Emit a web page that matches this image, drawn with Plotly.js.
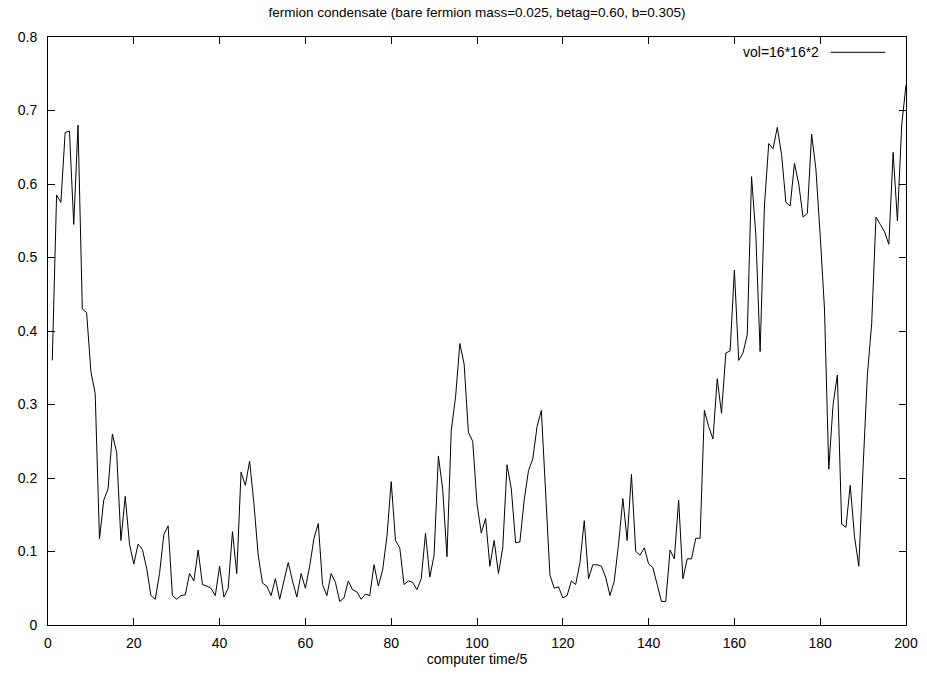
<!DOCTYPE html>
<html>
<head>
<meta charset="utf-8">
<script src="https://cdn.plot.ly/plotly-3.0.1.min.js"></script>
<style>html,body{margin:0;padding:0;background:#fff;}#chart{width:927px;height:675px;}</style>
</head>
<body>
<div id="chart"></div>
<script>
// computer time/5 (1..200)
const steps = Array.from({length: 200}, (_, i) => i + 1);
// fermion condensate values
const condensate = [
  0.360, 0.585, 0.575, 0.670, 0.672, 0.545, 0.680, 0.430, 0.425, 0.345,
  0.315, 0.117, 0.170, 0.185, 0.260, 0.235, 0.115, 0.175, 0.110, 0.083,
  0.110, 0.103, 0.077, 0.040, 0.035, 0.070, 0.123, 0.135, 0.040, 0.035,
  0.040, 0.041, 0.070, 0.060, 0.102, 0.055, 0.053, 0.050, 0.040, 0.080,
  0.038, 0.050, 0.127, 0.070, 0.208, 0.190, 0.223, 0.165, 0.095, 0.057,
  0.053, 0.040, 0.063, 0.035, 0.060, 0.085, 0.060, 0.038, 0.070, 0.050,
  0.080, 0.118, 0.138, 0.055, 0.040, 0.070, 0.058, 0.032, 0.037, 0.060,
  0.048, 0.045, 0.035, 0.042, 0.040, 0.082, 0.053, 0.075, 0.120, 0.195,
  0.115, 0.105, 0.055, 0.060, 0.058, 0.048, 0.063, 0.125, 0.065, 0.095,
  0.230, 0.185, 0.093, 0.265, 0.310, 0.383, 0.355, 0.262, 0.250, 0.165,
  0.125, 0.145, 0.080, 0.115, 0.070, 0.105, 0.218, 0.185, 0.112, 0.113,
  0.170, 0.210, 0.226, 0.270, 0.292, 0.170, 0.068, 0.050, 0.052, 0.037,
  0.040, 0.060, 0.055, 0.085, 0.142, 0.063, 0.082, 0.082, 0.080, 0.065,
  0.040, 0.060, 0.110, 0.172, 0.115, 0.205, 0.100, 0.095, 0.105, 0.083,
  0.078, 0.055, 0.032, 0.032, 0.102, 0.090, 0.170, 0.063, 0.090, 0.090,
  0.118, 0.118, 0.292, 0.270, 0.253, 0.335, 0.288, 0.370, 0.373, 0.483,
  0.360, 0.370, 0.395, 0.610, 0.530, 0.372, 0.570, 0.655, 0.648, 0.677,
  0.640, 0.575, 0.570, 0.628, 0.600, 0.555, 0.560, 0.668, 0.620, 0.530,
  0.430, 0.212, 0.300, 0.340, 0.137, 0.133, 0.190, 0.120, 0.080, 0.215,
  0.340, 0.410, 0.555, 0.545, 0.535, 0.518, 0.643, 0.550, 0.680, 0.735
];
const seriesName = 'vol=16*16*2';
const xTicks = [0, 20, 40, 60, 80, 100, 120, 140, 160, 180, 200];
const yTicks = [0, 0.1, 0.2, 0.3, 0.4, 0.5, 0.6, 0.7, 0.8];
const yTickText = ['0', '0.1', '0.2', '0.3', '0.4', '0.5', '0.6', '0.7', '0.8'];

const font = {family: 'Liberation Sans, Arial, sans-serif', size: 14, color: '#000'};

const trace = {
  x: steps, y: condensate, type: 'scatter', mode: 'lines',
  name: seriesName, line: {color: '#000', width: 1}, showlegend: false
};

const axisCommon = {
  showgrid: false, zeroline: false, showline: true, linecolor: '#000', linewidth: 1,
  mirror: 'ticks', ticks: 'inside', ticklen: 7, tickcolor: '#000', tickwidth: 1,
  tickfont: font
};

const layout = {
  width: 927, height: 675,
  margin: {l: 48, r: 21, t: 37, b: 50},
  paper_bgcolor: '#fff', plot_bgcolor: '#fff',
  font: font,
  title: {text: 'fermion condensate (bare fermion mass=0.025, betag=0.60, b=0.305)',
          font: {family: font.family, size: 13.5, color: '#000'},
          x: 0.5, xref: 'paper', y: 0.982, yref: 'container', yanchor: 'middle'},
  xaxis: Object.assign({}, axisCommon, {
    range: [0, 200], tickvals: xTicks, ticktext: xTicks.map(String),
    ticklabelstandoff: 5,
    title: {text: 'computer time/5', font: font, standoff: 2}
  }),
  yaxis: Object.assign({}, axisCommon, {
    range: [0, 0.8], tickvals: yTicks, ticktext: yTickText,
    ticklabelstandoff: 7
  }),
  annotations: [{
    text: seriesName, xref: 'paper', yref: 'paper', x: 0.901, y: 0.974,
    xanchor: 'right', yanchor: 'middle', showarrow: false, font: font
  }],
  shapes: [{
    type: 'line', xref: 'paper', yref: 'paper', x0: 0.912, x1: 0.976, y0: 0.974, y1: 0.974,
    line: {color: '#000', width: 1}
  }]
};

Plotly.newPlot('chart', [trace], layout, {displayModeBar: false, staticPlot: true});
</script>
</body>
</html>
